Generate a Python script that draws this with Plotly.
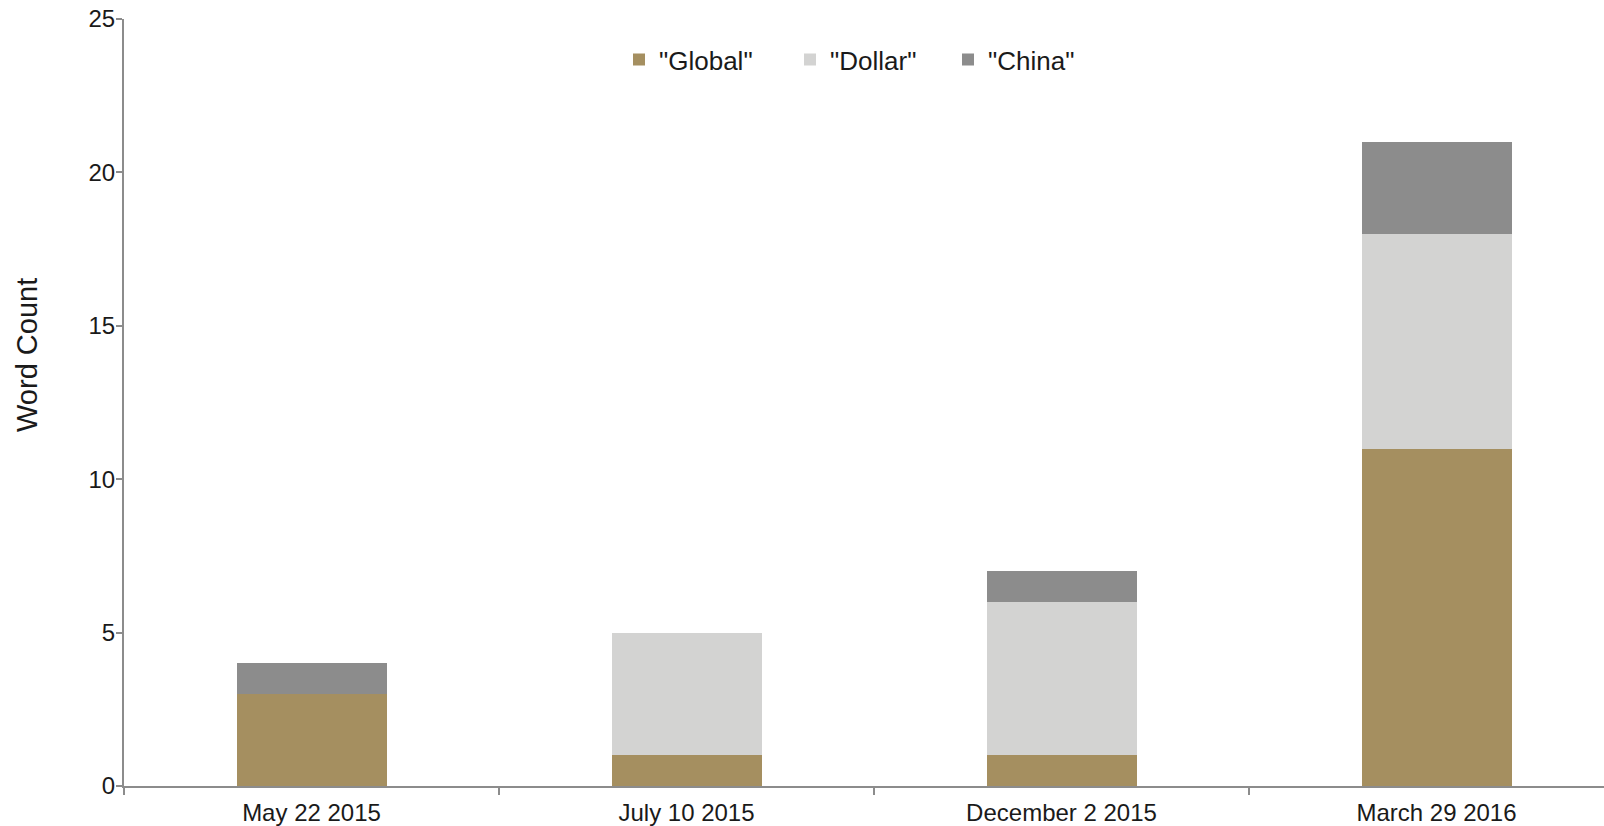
import plotly.graph_objects as go

categories = ["May 22 2015", "July 10 2015", "December 2 2015", "March 29 2016"]
global_vals = [3, 1, 1, 11]
dollar_vals = [0, 4, 5, 7]
china_vals = [1, 0, 1, 3]

series = [
    ('"Global"', global_vals, "#A58F60", "legend"),
    ('"Dollar"', dollar_vals, "#D3D3D2", "legend2"),
    ('"China"', china_vals, "#8C8C8C", "legend3"),
]

fig = go.Figure()
for name, vals, color, leg in series:
    fig.add_trace(go.Bar(
        x=categories, y=vals, name=name, legend=leg,
        marker=dict(color=color, line=dict(width=0)),
        width=0.4,
    ))

font_family = "Liberation Sans, Arial, sans-serif"
axis_color = "#8C8C8C"
text_color = "#1a1a1a"

PL, PR = 124, 1604
def px_to_paper(px):
    return (px - PL) / (PR - PL)

leg_common = dict(
    orientation="h", xanchor="left", y=0.947, yanchor="middle",
    font=dict(size=26, color=text_color), bgcolor="rgba(0,0,0,0)",
)

fig.update_layout(
    barmode="stack",
    width=1604, height=826,
    paper_bgcolor="white", plot_bgcolor="white",
    margin=dict(l=PL, r=0, t=19, b=40),
    font=dict(family=font_family, size=24, color=text_color),
    showlegend=True,
    legend=dict(x=px_to_paper(619), **leg_common),
    legend2=dict(x=px_to_paper(790), **leg_common),
    legend3=dict(x=px_to_paper(948), **leg_common),
    xaxis=dict(
        type="category",
        range=[-0.5, 3.5 - 20 / 375],
        showline=True, linecolor=axis_color, linewidth=2,
        ticks="outside", tickson="boundaries", ticklen=7, tickcolor=axis_color, tickwidth=1.5,
        showgrid=False, zeroline=False,
        tickfont=dict(size=24, color=text_color),
        ticklabelstandoff=4,
    ),
    yaxis=dict(
        range=[0, 25], dtick=5,
        showline=True, linecolor=axis_color, linewidth=2,
        ticks="outside", ticklen=6, tickcolor=axis_color, tickwidth=1.5,
        showgrid=False, zeroline=False,
        tickfont=dict(size=24, color=text_color),
        ticklabelstandoff=-4,
    ),
    annotations=[dict(
        text="Word Count", textangle=-90,
        xref="paper", yref="paper",
        x=px_to_paper(27), y=1 - (355 - 19) / (786 - 19),
        xanchor="center", yanchor="middle", showarrow=False,
        font=dict(size=29, color=text_color),
    )],
)

fig.write_html("out.html")
